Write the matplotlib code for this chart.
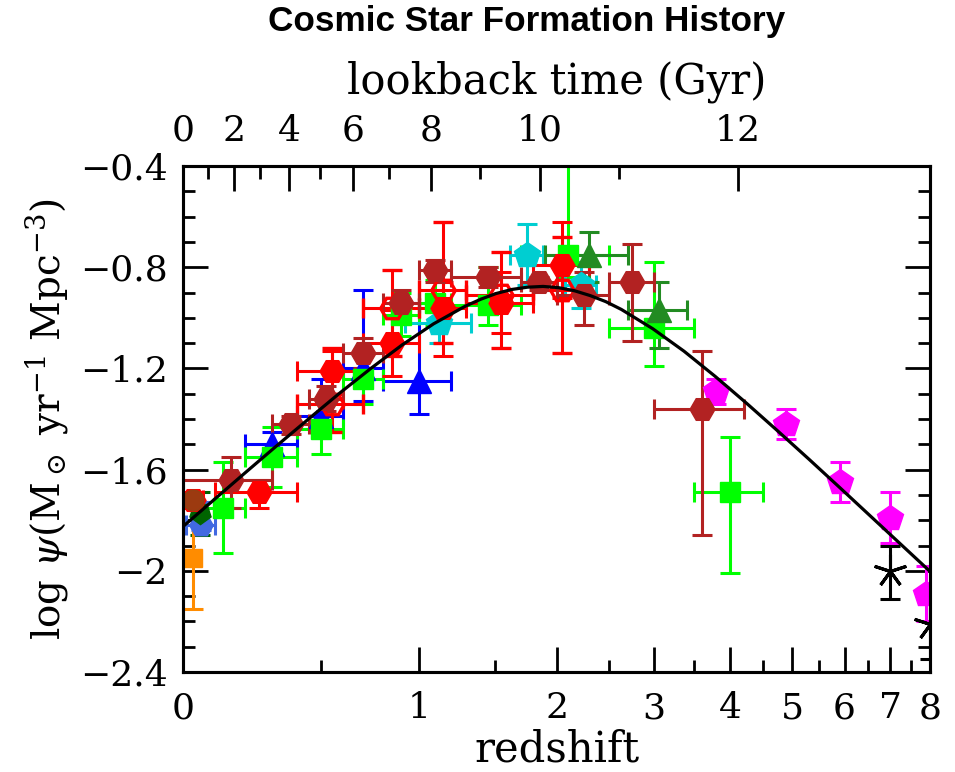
import numpy as np
import matplotlib
matplotlib.use('Agg')
import matplotlib.pyplot as plt

plt.rcParams['font.family'] = 'DejaVu Serif'
plt.rcParams['mathtext.fontset'] = 'dejavuserif'

# best-fit curve (z, log psi)
curve_z = [0.0, 0.0965, 0.2023, 0.3183, 0.4454, 0.5849, 0.7378, 0.9055, 1.0893,
           1.2909, 1.3988, 1.5119, 1.6303, 1.7542, 1.884, 2.02, 2.1623, 2.3113,
           2.4674, 2.6308, 2.9811, 3.3652, 3.7863, 4.2481, 4.7544, 5.3096,
           5.9183, 6.5858, 7.3176, 8.1201]
curve_psi = [-1.825, -1.718, -1.611, -1.505, -1.401, -1.298, -1.200, -1.107, -1.024,
             -0.955, -0.927, -0.904, -0.888, -0.879, -0.876, -0.881, -0.893, -0.912,
             -0.936, -0.967, -1.043, -1.132, -1.232, -1.338, -1.448, -1.560,
             -1.674, -1.789, -1.904, -2.019]

# Wyder+05 (royal blue)
wy_z, wy_lo, wy_hi = [0.055], [0.01], [0.1]
wy_psi, wy_up, wy_dn = [-1.82], [0.09], [0.02]

# Schiminovich+05 (blue triangles)
sc_z = [0.3, 0.5, 0.7, 1.0]
sc_lo = [0.2, 0.4, 0.6, 0.8]
sc_hi = [0.4, 0.6, 0.8, 1.2]
sc_psi = [-1.50, -1.39, -1.20, -1.25]
sc_up = [0.05, 0.15, 0.31, 0.31]
sc_dn = [0.05, 0.08, 0.13, 0.13]

# Robotham & Driver 11 (dark green)
rd_z, rd_psi, rd_up, rd_dn = [0.05], [-1.77], [0.08], [0.09]

# Cucciati+12 (green squares)
cu_z = [0.125, 0.3, 0.5, 0.7, 0.9, 1.1, 1.45, 2.1, 3.0, 4.0]
cu_lo = [0.05, 0.2, 0.4, 0.6, 0.8, 1.0, 1.2, 1.7, 2.5, 3.5]
cu_hi = [0.2, 0.4, 0.6, 0.8, 1.0, 1.2, 1.7, 2.5, 3.5, 4.5]
cu_psi = [-1.75, -1.55, -1.44, -1.24, -0.99, -0.94, -0.95, -0.75, -1.04, -1.69]
cu_up = [0.18, 0.12, 0.10, 0.10, 0.09, 0.09, 0.15, 0.49, 0.26, 0.22]
cu_dn = [0.18, 0.12, 0.10, 0.10, 0.08, 0.09, 0.08, 0.09, 0.15, 0.32]

# Dahlen+07 (cyan pentagons)
da_z = [1.125, 1.75, 2.225]
da_lo = [0.92, 1.62, 2.08]
da_hi = [1.33, 1.88, 2.37]
da_psi = [-1.02, -0.75, -0.87]
da_err = [0.08, 0.12, 0.09]

# Reddy & Steidel 09 (forest green triangles)
re_z = [2.3, 3.05]
re_lo = [1.9, 2.7]
re_hi = [2.7, 3.4]
re_psi = [-0.75, -0.97]
re_up = [0.09, 0.11]
re_dn = [0.11, 0.15]

# Bouwens+12 (magenta pentagons)
bo_z = [3.8, 4.9, 5.9, 7.0, 7.9]
bo_psi = [-1.29, -1.42, -1.65, -1.79, -2.09]
bo_err = [0.05, 0.06, 0.08, 0.10, 0.11]

# Schenker+13 (black asterisks)
sk_z = [7.0, 8.0]
sk_psi = [-2.00, -2.21]
sk_up = [0.10, 0.14]
sk_dn = [0.11, 0.14]

# Sanders+03 (brown) and Takeuchi+05 (orange)
sa_z, sa_psi, sa_up, sa_dn = [0.03], [-1.72], [0.02], [0.03]
ta_z, ta_psi, ta_err = [0.03], [-1.95], [0.20]

# Magnelli+11 (open red hexagons)
m11_z = [0.55, 0.85, 1.15, 1.55, 2.05]
m11_lo = [0.4, 0.7, 1.0, 1.3, 1.8]
m11_hi = [0.7, 1.0, 1.3, 1.8, 2.3]
m11_psi = [-1.34, -0.96, -0.89, -0.91, -0.89]
m11_up = [0.22, 0.15, 0.27, 0.17, 0.21]
m11_dn = [0.11, 0.19, 0.21, 0.21, 0.25]

# Magnelli+13 (filled red hexagons)
m13_z = [0.03, 0.25, 0.55, 0.85, 1.15, 1.55, 2.05]
m13_lo = [0.0, 0.1, 0.4, 0.7, 1.0, 1.3, 1.8]
m13_hi = [0.06, 0.4, 0.7, 1.0, 1.3, 1.8, 2.3]
m13_psi = [-1.72, -1.69, -1.21, -1.10, -0.96, -0.94, -0.79]
m13_up = [0.03, 0.05, 0.08, 0.13, 0.10, 0.12, 0.17]
m13_dn = [0.03, 0.06, 0.09, 0.13, 0.19, 0.12, 0.13]

# Gruppioni+13 (firebrick hexagons)
gr_z = [0.15, 0.375, 0.525, 0.7, 0.9, 1.1, 1.45, 1.85, 2.25, 2.75, 3.6]
gr_lo = [0.0, 0.3, 0.45, 0.6, 0.8, 1.0, 1.2, 1.7, 2.0, 2.5, 3.0]
gr_hi = [0.3, 0.45, 0.6, 0.8, 1.0, 1.2, 1.7, 2.0, 2.5, 3.0, 4.2]
gr_psi = [-1.64, -1.42, -1.32, -1.14, -0.94, -0.81, -0.84, -0.86, -0.91, -0.86, -1.36]
gr_up = [0.09, 0.03, 0.05, 0.06, 0.05, 0.04, 0.04, 0.02, 0.09, 0.15, 0.23]
gr_dn = [0.11, 0.04, 0.05, 0.06, 0.06, 0.05, 0.04, 0.03, 0.12, 0.23, 0.50]

z_ticks = [0, 1, 2, 3, 4, 5, 6, 7, 8]
z_minor = [0.5, 1.5, 2.5, 3.5, 4.5, 5.5, 6.5, 7.5]
t_ticks = [0, 2, 4, 6, 8, 10, 12]
t_minor = [1, 3, 5, 7, 9, 11]
y_ticks = [-0.4, -0.8, -1.2, -1.6, -2.0, -2.4]
y_labels = ['\u22120.4', '\u22120.8', '\u22121.2', '\u22121.6', '\u22122', '\u22122.4']


def lz(z):
    return np.log10(1 + np.asarray(z, dtype=float))


fig = plt.figure(figsize=(9.55, 7.72), dpi=100)
ax = fig.add_axes([183 / 955, 1 - 672 / 772, (930 - 183) / 955, (672 - 166) / 772])


def draw(z, psi, up, dn, lo=None, hi=None, **kw):
    x = lz(z)
    xerr = None
    if lo is not None:
        xerr = [x - lz(lo), lz(hi) - x]
    ax.errorbar(x, psi, yerr=[dn, up], xerr=xerr, ls='none', capsize=7.5,
                elinewidth=2.2, capthick=2.2, **kw)


draw(wy_z, wy_psi, wy_up, wy_dn, wy_lo, wy_hi, marker='H', color='#4169E1', ms=17)
draw(sc_z, sc_psi, sc_up, sc_dn, sc_lo, sc_hi, marker='^', color='#0000FF', ms=17)
draw(rd_z, rd_psi, rd_up, rd_dn, marker=(5, 0, 180), color='#006400', ms=16)
draw(cu_z, cu_psi, cu_up, cu_dn, cu_lo, cu_hi, marker='s', color='#00FF00', ms=14.5)
draw(da_z, da_psi, da_err, da_err, da_lo, da_hi, marker='p', color='#00CED1', ms=19)
draw(re_z, re_psi, re_up, re_dn, re_lo, re_hi, marker='^', color='#228B22', ms=17)
draw(bo_z, bo_psi, bo_err, bo_err, marker='p', color='#FF00FF', ms=19)
draw(sk_z, sk_psi, sk_up, sk_dn, marker=(5, 2, 0), color='black', ms=24, mew=2.2)
draw(ta_z, ta_psi, ta_err, ta_err, marker='s', color='#FF8C00', ms=13)
draw(m11_z, m11_psi, m11_up, m11_dn, m11_lo, m11_hi, marker='H', color='#FF0000',
     ms=17, mfc='none', mew=2.4)
draw(m13_z, m13_psi, m13_up, m13_dn, m13_lo, m13_hi, marker='H', color='#FF0000', ms=18)
draw(sa_z, sa_psi, sa_up, sa_dn, marker='o', color='#8B4513', ms=15, alpha=0.85)
draw(gr_z, gr_psi, gr_up, gr_dn, gr_lo, gr_hi, marker='H', color='#B22222', ms=18)

ax.plot(lz(curve_z), curve_psi, color='black', lw=2.3, zorder=10)

xmax = lz(8)
ax.set_xlim(0, xmax)
ax.set_ylim(-2.4, -0.4)

ax.set_xticks(lz(z_ticks))
ax.set_xticklabels([str(z) for z in z_ticks])
ax.set_xticks(lz(z_minor), minor=True)
ax.set_yticks(y_ticks)
ax.set_yticklabels(y_labels)
ax.set_yticks(np.arange(-2.4, -0.39, 0.1), minor=True)

ax.tick_params(which='both', direction='in', width=2, top=False, right=True,
               labelsize=26)
ax.tick_params(which='major', length=18)
ax.tick_params(which='minor', length=8.5)
ax.tick_params(axis='x', pad=14)
ax.tick_params(axis='y', pad=11)
for s in ax.spines.values():
    s.set_linewidth(2.2)

ax.set_xlabel('redshift', fontsize=30, labelpad=2)
ax.set_ylabel(r'log $\psi$(M$_\odot$ yr$^{-1}$ Mpc$^{-3}$)', fontsize=28, labelpad=7)

# top axis: lookback time (H0=70, Om=0.3, OL=0.7)
zz = np.linspace(0, 12, 40001)
integrand = 1.0 / ((1 + zz) * np.sqrt(0.3 * (1 + zz) ** 3 + 0.7))
tl = np.concatenate([[0], np.cumsum(0.5 * (integrand[1:] + integrand[:-1]) * np.diff(zz))])
tl *= 977.8 / 70.0

ax2 = ax.twiny()
ax2.set_xlim(0, xmax)
ax2.set_xticks(lz(np.interp(t_ticks, tl, zz)))
ax2.set_xticklabels([str(t) for t in t_ticks])
ax2.set_xticks(lz(np.interp(t_minor, tl, zz)), minor=True)
ax2.tick_params(which='both', direction='in', width=2, labelsize=26, pad=13)
ax2.tick_params(which='major', length=18)
ax2.tick_params(which='minor', length=9)
for s in ax2.spines.values():
    s.set_linewidth(2.2)
ax2.set_xlabel('lookback time (Gyr)', fontsize=30, labelpad=15)

fig.text(527 / 955, 1 - 22 / 772, 'Cosmic Star Formation History', ha='center',
         va='center', fontsize=25.3, fontweight='bold', family='Liberation Sans')

fig.savefig('out.png', dpi=100)
